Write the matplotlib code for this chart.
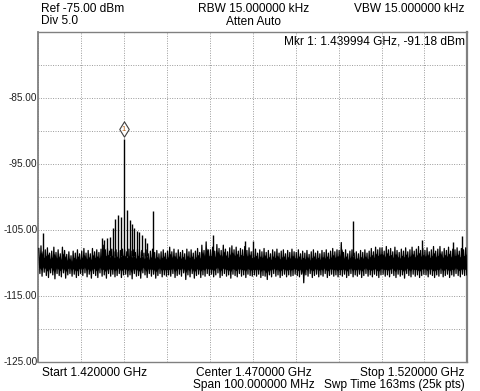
import numpy as np
import matplotlib
matplotlib.use("Agg")
import matplotlib.pyplot as plt
from matplotlib.path import Path

plt.rcParams['font.family'] = ['Liberation Sans', 'DejaVu Sans']

# ---------------- data ----------------
ref_level = -75.0
div_db = 5.0
start_mhz = 1420.0
stop_mhz = 1520.0

# noise band: upper / lower envelope, one value per 0.5 MHz bin (1420.25 ... 1519.75)
noise_hi = [
    -107.8, -107.4, -108.3, -108.0, -107.7, -108.5, -108.2, -107.6, -108.4, -108.0,
    -108.6, -107.6, -108.1, -108.7, -108.3, -108.9, -108.2, -108.5, -108.0, -108.6,
    -108.2, -107.8, -108.5, -108.1, -108.6, -107.8, -108.3, -108.0, -108.4, -107.9,
    -107.3, -108.0, -107.8, -108.2, -107.9, -108.3, -108.0, -108.4, -108.1, -107.9,
    -108.0, -108.3, -107.9, -108.2, -108.0, -108.4, -107.9, -108.3, -108.1, -108.5,
    -108.0, -108.6, -108.2, -107.9, -108.4, -108.1, -108.6, -108.3, -108.0, -108.5,
    -108.2, -107.6, -108.3, -107.9, -108.5, -108.0, -108.4, -108.1, -108.6, -107.9,
    -108.3, -108.0, -108.5, -108.2, -107.8, -108.4, -107.3, -108.1, -106.8, -108.0,
    -108.0, -107.6, -108.2, -107.2, -107.8, -108.1, -107.3, -107.9, -108.3, -107.7,
    -107.4, -108.0, -107.6, -108.2, -107.8, -108.0, -107.5, -108.1, -107.7, -108.3,
    -108.2, -107.9, -108.5, -108.0, -108.3, -107.8, -108.4, -108.1, -108.6, -108.0,
    -108.3, -107.9, -108.5, -108.2, -108.0, -108.6, -108.1, -108.4, -107.9, -108.3,
    -108.4, -108.0, -108.6, -108.2, -108.5, -108.1, -108.7, -108.3, -108.0, -108.5,
    -108.2, -108.6, -108.1, -108.4, -108.0, -108.5, -108.2, -107.8, -108.3, -108.0,
    -108.1, -106.9, -108.4, -108.0, -108.6, -108.2, -108.0, -108.5, -108.3, -108.6,
    -108.1, -108.4, -108.0, -108.5, -108.2, -107.8, -108.3, -107.6, -108.0, -107.7,
    -107.7, -108.2, -107.5, -108.0, -107.8, -108.3, -107.6, -108.1, -108.4, -107.9,
    -108.2, -107.7, -108.3, -108.0, -107.6, -108.2, -107.9, -107.5, -108.1, -107.8,
    -108.1, -107.7, -108.3, -108.0, -107.5, -108.2, -107.9, -107.5, -108.3, -107.8,
    -108.1, -107.6, -108.2, -107.9, -108.0, -107.7, -108.2, -107.8, -108.0, -107.7,
]
noise_lo = [
    -111.6, -112.0, -111.4, -111.9, -112.2, -111.5, -111.8, -112.4, -111.6, -111.9,
    -112.1, -111.5, -112.3, -111.8, -111.6, -112.0, -111.7, -112.2, -111.9, -111.6,
    -111.9, -111.5, -112.1, -111.7, -112.3, -111.6, -111.9, -112.2, -111.5, -112.0,
    -111.8, -112.3, -111.6, -112.0, -111.7, -112.1, -111.9, -111.6, -112.2, -111.8,
    -111.7, -112.1, -111.8, -112.4, -111.6, -112.0, -111.9, -112.3, -111.5, -111.8,
    -112.2, -111.6, -112.0, -111.7, -112.3, -111.9, -111.6, -112.1, -111.8, -112.0,
    -111.8, -112.0, -111.6, -112.2, -111.9, -111.7, -112.0, -111.5, -112.5, -111.8,
    -112.1, -111.6, -112.3, -111.9, -111.7, -112.2, -111.8, -112.0, -111.6, -111.9,
    -111.7, -112.1, -111.8, -111.5, -112.2, -111.9, -111.6, -112.0, -111.8, -112.3,
    -111.7, -111.9, -112.1, -111.6, -112.0, -111.8, -112.2, -111.7, -111.9, -112.0,
    -111.8, -112.0, -111.7, -112.2, -111.9, -112.0, -112.5, -111.8, -112.1, -111.6,
    -112.0, -111.8, -112.2, -111.9, -111.7, -112.1, -111.8, -112.0, -111.9, -111.7,
    -111.9, -112.1, -111.7, -113.0, -111.8, -112.0, -111.6, -112.2, -111.9, -111.7,
    -112.1, -111.8, -112.0, -111.6, -112.2, -111.9, -111.7, -112.0, -111.8, -112.1,
    -111.8, -112.0, -111.7, -112.2, -111.9, -111.6, -112.1, -111.8, -112.0, -111.7,
    -112.2, -111.9, -111.6, -112.0, -111.8, -112.1, -111.7, -111.9, -112.2, -111.8,
    -111.7, -112.0, -111.8, -112.1, -111.6, -111.9, -112.2, -111.7, -112.0, -111.8,
    -112.3, -111.6, -111.9, -112.1, -111.7, -112.0, -111.8, -112.2, -111.9, -111.7,
    -111.8, -112.1, -111.7, -111.9, -112.2, -111.8, -112.0, -111.6, -112.1, -111.9,
    -111.7, -112.2, -111.8, -112.0, -111.6, -111.9, -112.1, -111.7, -111.9, -111.8,
]

# discrete spurs rising above the noise band
spur_freqs = [1421.1, 1434.8, 1435.3, 1436.0, 1436.7, 1437.3, 1437.9, 1438.6, 1439.3,
              1440.7, 1441.3, 1441.8, 1442.3, 1442.9, 1443.5, 1444.2, 1444.9, 1445.4,
              1446.8, 1460.65, 1468.2, 1470.1, 1493.4, 1509.4, 1516.6, 1518.8]
spur_levels = [-105.5, -106.2, -106.5, -106.2, -106.0, -104.7, -103.3, -102.7, -103.0,
               -101.9, -103.5, -104.1, -104.7, -105.2, -105.3, -105.8, -106.2, -107.0,
               -102.1, -105.7, -106.6, -106.7, -103.7, -106.5, -106.8, -105.9]

marker_freq = 1439.994
marker_level = -91.18

ytick_vals = [-125, -115, -105, -95, -85]
header_texts = {
    'ref': 'Ref -75.00 dBm', 'div': 'Div 5.0',
    'rbw': 'RBW 15.000000 kHz', 'atten': 'Atten Auto', 'vbw': 'VBW 15.000000 kHz',
    'mkr': 'Mkr 1: 1.439994 GHz, -91.18 dBm',
    'start': 'Start 1.420000 GHz', 'center': 'Center 1.470000 GHz',
    'stop': 'Stop 1.520000 GHz', 'span': 'Span 100.000000 MHz',
    'swp': 'Swp Time 163ms (25k pts)',
}

# ---------------- figure ----------------
W, H = 480, 391
fig = plt.figure(figsize=(W / 100, H / 100), dpi=100)
fig.patch.set_facecolor('white')

ax_l, ax_r, ax_t, ax_b = 38.3, 467.3, 32.0, 362.0
ax = fig.add_axes([ax_l / W, 1 - ax_b / H, (ax_r - ax_l) / W, (ax_b - ax_t) / H])
ax.set_facecolor('white')
bottom_level = ref_level - 10 * div_db
ax.set_xlim(start_mhz, stop_mhz)
ax.set_ylim(bottom_level, ref_level)

# grid
ax.set_xticks(np.arange(start_mhz, stop_mhz + 0.1, (stop_mhz - start_mhz) / 10))
ax.set_yticks(np.arange(bottom_level, ref_level + 0.1, div_db))
ax.grid(True, color='#9a9a9a', linestyle=(0, (1, 1.5)), linewidth=0.7)
ax.tick_params(length=0, labelbottom=False, labelleft=False)
for s in ax.spines.values():
    s.set_color('#808080')
    s.set_linewidth(1.0)
ax.spines['left'].set_linewidth(1.3)
ax.spines['right'].set_linewidth(1.6)

# noise band: trace swings between the upper and lower envelope in each bin
bin_freqs = np.linspace(start_mhz + 0.25, stop_mhz - 0.25, len(noise_hi))
half = 0.125
trace_x = np.column_stack([bin_freqs - half, bin_freqs + half]).ravel()
trace_y = np.column_stack([noise_hi, noise_lo]).ravel()
ax.fill_between(bin_freqs, np.array(noise_lo) + 0.9, np.array(noise_hi) - 0.9,
                color='black', linewidth=0, zorder=3)
ax.plot(trace_x, trace_y, color='black', linewidth=0.9, zorder=3)

# spurs
ax.vlines(spur_freqs, -109.0, spur_levels, color='black', linewidth=1.0, zorder=3)
# main carrier
ax.vlines([marker_freq], -110.0, [marker_level], color='black', linewidth=1.0, zorder=3)

# marker diamond
diamond = Path([(0, 1), (0.62, 0), (0, -1), (-0.62, 0), (0, 1)],
               [Path.MOVETO, Path.LINETO, Path.LINETO, Path.LINETO, Path.CLOSEPOLY])
mk_center = marker_level + 1.5
ax.plot([marker_freq], [mk_center], marker=diamond, markersize=11, markerfacecolor='white',
        markeredgecolor='#404040', markeredgewidth=0.8, linestyle='none', zorder=5)
ax.text(marker_freq, mk_center - 0.05, '1', fontsize=5.5, color='#b05a10', ha='center',
        va='center', zorder=6)

# y labels
for v in ytick_vals:
    yp = ax_t + (ref_level - v) / (ref_level - bottom_level) * (ax_b - ax_t)
    fig.text(37.5 / W, 1 - yp / H, f'{v:.2f}', fontsize=7.2, ha='right', va='center',
             color='#202020')


def ftext(x, y, s, ha='left', size=8.6):
    fig.text(x / W, 1 - y / H, s, fontsize=size, ha=ha, va='center', color='black')


ftext(41, 9, header_texts['ref'])
ftext(41, 21, header_texts['div'])
ftext(253.5, 9, header_texts['rbw'], ha='center')
ftext(253.5, 22, header_texts['atten'], ha='center')
ftext(465, 9, header_texts['vbw'], ha='right')
ftext(464.5, 41, header_texts['mkr'], ha='right')
ftext(41.5, 373, header_texts['start'])
ftext(253.5, 373, header_texts['center'], ha='center')
ftext(465, 373, header_texts['stop'], ha='right')
ftext(253.5, 385, header_texts['span'], ha='center')
ftext(465, 385, header_texts['swp'], ha='right')

fig.savefig('out.png', dpi=100, facecolor='white')
